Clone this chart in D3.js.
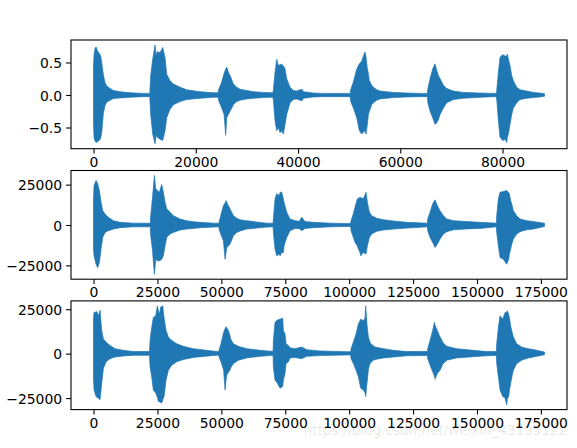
<!DOCTYPE html>
<html>
<head>
<meta charset="utf-8">
<script src="https://cdn.jsdelivr.net/npm/d3@7"></script>
<style>
  html, body { margin: 0; padding: 0; background: #fff; }
  svg { display: block; }
  text { font-family: "DejaVu Sans", sans-serif; }
</style>
</head>
<body>
<svg id="chart" width="577" height="448"></svg>
<script>
// ---- data: waveform envelopes [sampleIndex, upper, lower] ----
const wave1Length = 88200;
const wave1 = [
  [0,0.45,-0.45],[100,0.62,-0.66],[300,0.72,-0.71],[500,0.74,-0.73],[750,0.68,-0.72],[1100,0.64,-0.7],[1400,0.6,-0.66],[1600,0.5,-0.58],[1920,0.31,-0.28],[2250,0.19,-0.16],[2580,0.14,-0.11],[3230,0.1,-0.08],[3880,0.07,-0.055],[5180,0.05,-0.045],[7140,0.035,-0.035],[9700,0.025,-0.025],
  [11000,0.025,-0.025],[11180,0.3,-0.3],[11570,0.55,-0.6],[12030,0.77,-0.75],[12250,0.6,-0.62],[12490,0.67,-0.65],[13000,0.65,-0.68],[13530,0.73,-0.7],[13990,0.57,-0.55],[14310,0.32,-0.35],[14960,0.22,-0.22],[15620,0.17,-0.15],[16920,0.12,-0.1],[18220,0.08,-0.07],[20830,0.05,-0.05],[23440,0.035,-0.035],
  [24400,0.035,-0.035],[24450,0.08,-0.08],[25070,0.2,-0.2],[25530,0.33,-0.3],[25850,0.4,-0.62],[26050,0.43,-0.35],[26370,0.35,-0.3],[26700,0.3,-0.25],[27350,0.17,-0.15],[28000,0.12,-0.1],[28650,0.09,-0.08],[29960,0.07,-0.06],[31260,0.05,-0.05],[33220,0.04,-0.04],[34500,0.035,-0.035],
  [35100,0.035,-0.035],[35200,0.1,-0.1],[35500,0.35,-0.4],[35830,0.55,-0.55],[36160,0.45,-0.5],[36480,0.47,-0.58],[36800,0.47,-0.55],[37130,0.45,-0.6],[37460,0.4,-0.45],[37780,0.25,-0.3],[38440,0.12,-0.12],[39090,0.07,-0.07],[39700,0.06,-0.06],[40720,0.09,-0.09],[41100,0.05,-0.05],[43000,0.03,-0.03],[45000,0.025,-0.025],
  [50200,0.025,-0.025],[50300,0.08,-0.1],[50820,0.2,-0.2],[51480,0.4,-0.35],[52000,0.48,-0.55],[52450,0.52,-0.6],[52780,0.6,-0.57],[53110,0.66,-0.55],[53300,0.58,-0.6],[53560,0.4,-0.45],[53760,0.33,-0.3],[53950,0.22,-0.25],[54410,0.15,-0.15],[54740,0.12,-0.12],[55390,0.08,-0.08],[56040,0.06,-0.06],[57340,0.05,-0.05],[58650,0.04,-0.04],[61260,0.03,-0.03],[64000,0.025,-0.025],
  [65300,0.025,-0.025],[65400,0.1,-0.12],[65820,0.25,-0.25],[66340,0.4,-0.35],[66800,0.48,-0.45],[67120,0.38,-0.43],[67450,0.3,-0.38],[67780,0.25,-0.3],[68430,0.15,-0.2],[69080,0.1,-0.12],[70380,0.06,-0.07],[72340,0.04,-0.05],[75600,0.03,-0.035],[78300,0.025,-0.025],
  [78800,0.025,-0.025],[78900,0.1,-0.1],[79190,0.35,-0.4],[79510,0.58,-0.65],[80040,0.62,-0.7],[80490,0.6,-0.68],[80820,0.6,-0.73],[80950,0.63,-0.65],[81140,0.55,-0.6],[81470,0.45,-0.45],[81790,0.3,-0.3],[82120,0.22,-0.2],[82770,0.12,-0.12],[83420,0.08,-0.07],[84730,0.06,-0.05],[86030,0.04,-0.04],[87340,0.03,-0.03],[88199,0.02,-0.02]
];

const wave2Length = 176400;
const wave2 = [
  [0,17200,-14900],[200,24500,-19100],[980,27600,-24300],[1630,25500,-26400],[2280,21400,-23200],[2930,14100,-14900],[3590,8900,-7700],[4500,6800,-4600],[5800,4800,-3500],[7760,2700,-2500],[10370,1660,-1660],[15580,1150,-1150],
  [22200,1100,-1100],[22360,5800,-6600],[23020,16200,-14900],[23800,30700,-30500],[24320,22400,-21200],[24970,21400,-22200],[25750,20300,-22200],[26670,25100,-21200],[27320,20300,-19100],[27970,14100,-12900],[28620,10000,-7700],[29930,7900,-5600],[31230,5800,-4600],[33840,3700,-3100],[36450,2700,-2500],[39050,2000,-2100],[41660,1660,-1660],[46880,1150,-1300],
  [49000,1100,-1100],[49100,1660,-2500],[49750,5800,-5600],[50800,12000,-9750],[51450,13700,-21200],[51840,15100,-17000],[52100,14100,-13900],[52750,12000,-13000],[53400,10000,-11800],[54710,5800,-6600],[56010,4150,-4600],[57320,3300,-3700],[58620,2900,-3100],[59920,2700,-2500],[62530,2100,-2100],[67750,1150,-1300],
  [70250,1100,-1100],[70350,3700,-4600],[71000,16200,-14900],[71650,19300,-19100],[72700,18300,-18000],[72960,20300,-19100],[73610,20300,-17000],[74260,16200,-17000],[74520,14100,-12900],[75570,7900,-7700],[76870,3700,-3500],[78830,2700,-2100],[80500,2300,-2300],[81440,4800,-3500],[82740,2100,-2100],[86000,1660,-1660],[92520,1150,-1150],[99040,950,-950],
  [100600,950,-950],[100740,2700,-3500],[101390,5800,-6600],[102300,11000,-10800],[103210,16200,-13000],[103600,16500,-14900],[104260,17200,-17000],[104520,17000,-19100],[105560,16200,-17000],[106600,20300,-18000],[107120,14100,-12900],[107910,7900,-7700],[108820,5800,-5600],[110780,4150,-3900],[113380,3300,-3100],[117300,2500,-2500],[122510,1660,-1900],
  [130600,1150,-1150],[130730,3700,-3500],[131640,7900,-7700],[132680,13100,-10800],[133600,15600,-13900],[134510,12000,-11800],[135550,8900,-8700],[136860,5800,-5600],[138160,3700,-4150],[140770,2700,-3000],[145980,2100,-2400],[151200,1660,-2100],
  [157600,1150,-1150],[157720,5800,-4600],[158370,16200,-12900],[159020,20300,-20100],[160330,20750,-21200],[161630,21400,-24300],[162410,20000,-21200],[162670,19300,-18000],[163190,15000,-14900],[163580,13100,-12000],[164240,8900,-8700],[165540,5800,-5600],[166850,3700,-4200],[168150,3200,-3500],[169460,2700,-3000],[172070,2100,-2500],[176399,1150,-950]
];

const wave3Length = 176400;
const wave3 = [
  [0,20400,-14800],[200,23100,-20400],[980,23500,-24100],[1240,23700,-24500],[1890,21300,-25000],[2540,24400,-25900],[3190,13000,-16700],[3850,8300,-8300],[4890,6500,-4600],[6450,4600,-2800],[8410,2800,-1850],[11670,1850,-1300],[15580,1200,-900],
  [21900,1200,-900],[22100,7400,-7400],[22750,14800,-13000],[23400,20400,-20400],[24320,21300,-22200],[24970,26900,-24500],[25360,24000,-26900],[25750,22200,-27000],[26280,26300,-27500],[26670,26500,-27800],[27060,26900,-26000],[27580,20400,-24100],[28360,13000,-14800],[29270,9300,-9300],[30580,7400,-6500],[32530,5600,-4600],[35140,4100,-3300],[39050,2800,-2100],[44270,1850,-1400],[48180,1200,-900],
  [49000,1200,-900],[49070,1850,-1850],[49850,5600,-4600],[50890,12000,-9300],[51450,14000,-20400],[51840,15200,-15000],[52100,14500,-12000],[52750,13000,-10500],[53400,10000,-9300],[53660,8300,-8000],[54710,5600,-5600],[56660,4100,-3700],[59920,2800,-2400],[65140,1850,-1500],[69050,1400,-1100],
  [70250,1400,-1100],[70350,7400,-7400],[71000,17600,-14800],[71910,18900,-16700],[72960,19400,-19400],[74000,20000,-18500],[74260,13000,-14800],[74910,11100,-11100],[75310,5600,-5600],[76220,4600,-4600],[76870,3300,-2400],[78830,2800,-2200],[81440,3700,-2800],[83390,2200,-1500],[88610,1500,-1100],[99040,1100,-750],
  [100600,1100,-750],[100740,2800,-2800],[101650,6500,-5600],[102690,11100,-9300],[103600,16700,-13000],[104520,19400,-19400],[105560,18500,-20400],[106210,20000,-22000],[106470,26900,-24100],[106860,18500,-18000],[107120,14000,-14800],[107520,9300,-9000],[107910,7500,-6500],[108430,5600,-5000],[109470,4500,-3700],[110120,3700,-3300],[113380,2800,-2400],[117300,1850,-1900],[122510,1200,-1200],
  [130600,1200,-1000],[130730,2800,-2800],[131640,7400,-6500],[132680,13000,-10200],[133330,17600,-12500],[133600,16000,-14400],[134250,13900,-12000],[134510,13000,-11100],[135290,10200,-9800],[135550,9500,-9300],[136600,6500,-6000],[136860,6000,-5600],[138160,4100,-3700],[142070,2800,-2400],[148590,1850,-1700],[153810,1200,-1200],
  [157600,1200,-1000],[157720,5600,-5600],[158370,14800,-13000],[159020,21300,-20400],[160070,19400,-24100],[160980,23100,-25000],[161630,23500,-28700],[161890,24100,-25500],[162410,22000,-24100],[162670,20400,-21000],[163190,15500,-16700],[163580,13000,-13500],[164240,9300,-9300],[165540,5600,-5600],[167500,3700,-3700],[168150,3400,-3300],[170110,2800,-2500],[172070,2300,-1850],[173380,1850,-1500],[176399,900,-560]
];

// tick values
const xTicks1 = [0, 20000, 40000, 60000, 80000];
const yTicks1 = [-0.5, 0.0, 0.5];
const xTicks23 = [0, 25000, 50000, 75000, 100000, 125000, 150000, 175000];
const yTicks23 = [-25000, 0, 25000];
const watermark = "https://blog.csdn.net/weixin_43195122";

// ---- layout ----
const svg = d3.select("#chart");
const color = "#1f77b4";
const left = 71, right = 567;
const panels = [
  { data: wave1, n: wave1Length, top: 40.0, bottom: 148.7, xt: xTicks1, yt: yTicks1, yfmt: d => d3.format(".1f")(d) },
  { data: wave2, n: wave2Length, top: 170.5, bottom: 279.2, xt: xTicks23, yt: yTicks23, yfmt: d => String(d) },
  { data: wave3, n: wave3Length, top: 300.9, bottom: 409.6, xt: xTicks23, yt: yTicks23, yfmt: d => String(d) }
];
const minus = s => s.replace("-", "\u2212");

panels.forEach(p => {
  const xr = p.n - 1;
  const x = d3.scaleLinear().domain([-0.05 * xr, 1.05 * xr]).range([left, right]);
  const ymax = d3.max(p.data, d => d[1]);
  const ymin = d3.min(p.data, d => d[2]);
  const pad = 0.05 * (ymax - ymin);
  const y = d3.scaleLinear().domain([ymin - pad, ymax + pad]).range([p.bottom, p.top]);

  const g = svg.append("g");
  const clipId = "clip" + Math.round(p.top);
  g.append("clipPath").attr("id", clipId).append("rect")
    .attr("x", left).attr("y", p.top).attr("width", right - left).attr("height", p.bottom - p.top);

  const area = d3.area()
    .x(d => x(d[0]))
    .y0(d => y(d[2]))
    .y1(d => y(d[1]))
    .curve(d3.curveLinear);

  g.append("path")
    .attr("clip-path", `url(#${clipId})`)
    .attr("d", area(p.data))
    .attr("fill", color)
    .attr("stroke", color)
    .attr("stroke-width", 0.7)
    .attr("stroke-linejoin", "round");

  // axes
  const xAxis = d3.axisBottom(x).tickValues(p.xt).tickSize(4.9).tickPadding(3.3)
    .tickFormat(d => minus(String(d)));
  const yAxis = d3.axisLeft(y).tickValues(p.yt).tickSize(4.9).tickPadding(4.0)
    .tickFormat(d => minus(p.yfmt(d)));

  const gx = g.append("g").attr("transform", `translate(0,${p.bottom})`).call(xAxis);
  const gy = g.append("g").attr("transform", `translate(${left},0)`).call(yAxis);
  [gx, gy].forEach(a => {
    a.select(".domain").remove();
    a.selectAll(".tick line").attr("stroke", "#000").attr("stroke-width", 1.1);
    a.selectAll(".tick text").attr("fill", "#000").attr("font-size", "13.9px")
      .attr("font-family", "DejaVu Sans, sans-serif");
  });
  gy.selectAll(".tick text").attr("dy", "0.36em");

  // frame
  g.append("rect").attr("x", left).attr("y", p.top)
    .attr("width", right - left).attr("height", p.bottom - p.top)
    .attr("fill", "none").attr("stroke", "#000").attr("stroke-width", 1.1);
});

svg.append("text")
  .attr("x", 567).attr("y", 435)
  .attr("text-anchor", "end")
  .attr("font-size", "13.5px")
  .attr("fill", "#000")
  .attr("fill-opacity", 0.1)
  .text(watermark);
</script>
</body>
</html>
